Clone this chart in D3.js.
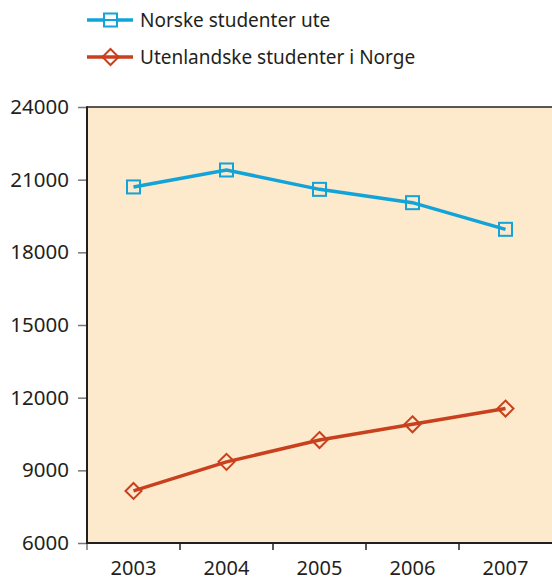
<!DOCTYPE html>
<html><head><meta charset="utf-8">
<script src="https://cdn.jsdelivr.net/npm/d3@7"></script>
<style>body{margin:0;background:#fff}svg{display:block}text{font-family:"Noto Sans",sans-serif;fill:#231f20}</style>
</head><body>
<svg id="c" width="552" height="582"></svg>
<script>
const years = ["2003","2004","2005","2006","2007"];
const norske = [20700, 21400, 20600, 20050, 18950];
const utenlandske = [8150, 9350, 10250, 10900, 11550];
const yTicks = [6000, 9000, 12000, 15000, 18000, 21000, 24000];
const seriesNames = ["Norske studenter ute", "Utenlandske studenter i Norge"];
const colors = ["#12a3d8", "#c8401d"];

const svg = d3.select("#c");
const L = 87, R = 552, T = 107, B = 543;
const x = d3.scaleBand().domain(years).range([L, R]);
const y = d3.scaleLinear().domain([6000, 24000]).range([B, T]);

svg.append("rect").attr("x", L).attr("y", T).attr("width", 552 - L).attr("height", B - T).attr("fill", "#fde9cb");
svg.append("line").attr("x1", L).attr("x2", 552).attr("y1", T).attr("y2", T).attr("stroke", "#231f20").attr("stroke-width", 1.5);

// y axis
const ya = svg.append("g").attr("transform", `translate(${L},0)`)
  .call(d3.axisLeft(y).tickValues(yTicks).tickSize(9).tickPadding(9).tickFormat(d3.format("d")));
ya.select(".domain").remove();
ya.selectAll(".tick line").attr("stroke", "#777").attr("stroke-width", 1.5);
ya.selectAll("text").style("font-size", "20.5px").attr("fill", "#231f20");
svg.append("line").attr("x1", L).attr("x2", L).attr("y1", T - 0.75).attr("y2", B + 1).attr("stroke", "#231f20").attr("stroke-width", 2);

// x axis
const xa = svg.append("g").attr("transform", `translate(0,${B})`);
const bounds = years.map(d => x(d));
xa.selectAll("line.t").data(bounds).join("line")
  .attr("x1", d => d).attr("x2", d => d).attr("y1", 0).attr("y2", 7)
  .attr("stroke", (d, i) => i === 0 ? "#777" : "#231f20").attr("stroke-width", 1.5);
xa.selectAll("text").data(years).join("text")
  .attr("x", d => x(d) + x.bandwidth() / 2).attr("y", 32)
  .attr("text-anchor", "middle").style("font-size", "20px").text(d => d);
svg.append("line").attr("x1", L - 1).attr("x2", 552).attr("y1", B).attr("y2", B).attr("stroke", "#231f20").attr("stroke-width", 2);

const cx = d => x(d) + x.bandwidth() / 2;
const line = d3.line().x((d, i) => cx(years[i])).y(d => y(d));

// Norske
svg.append("path").datum(norske).attr("d", line).attr("fill", "none").attr("stroke", colors[0]).attr("stroke-width", 3.5);
svg.selectAll("rect.sq").data(norske).join("rect").attr("class", "sq")
  .attr("x", (d, i) => cx(years[i]) - 6.5).attr("y", d => y(d) - 6.5)
  .attr("width", 13).attr("height", 13).attr("fill", "none").attr("stroke", colors[0]).attr("stroke-width", 2);

// Utenlandske
svg.append("path").datum(utenlandske).attr("d", line).attr("fill", "none").attr("stroke", colors[1]).attr("stroke-width", 3.5);
const dia = (cxv, cyv, r) => `M${cxv},${cyv - r}L${cxv + r},${cyv}L${cxv},${cyv + r}L${cxv - r},${cyv}Z`;
svg.selectAll("path.dm").data(utenlandske).join("path").attr("class", "dm")
  .attr("d", (d, i) => dia(cx(years[i]), y(d), 8))
  .attr("fill", "none").attr("stroke", colors[1]).attr("stroke-width", 2);

// legend
const leg = svg.append("g");
const ly = [20, 57];
seriesNames.forEach((n, i) => {
  leg.append("line").attr("x1", 87).attr("x2", 133).attr("y1", ly[i]).attr("y2", ly[i]).attr("stroke", colors[i]).attr("stroke-width", 3.5);
  if (i === 0) {
    leg.append("rect").attr("x", 104).attr("y", ly[i] - 6.5).attr("width", 13).attr("height", 13).attr("fill", "#fff").attr("stroke", colors[i]).attr("stroke-width", 2);
    leg.append("line").attr("x1", 104).attr("x2", 117).attr("y1", ly[i]).attr("y2", ly[i]).attr("stroke", colors[i]).attr("stroke-width", 2);
  } else {
    leg.append("path").attr("d", dia(110.5, ly[i], 8)).attr("fill", "#fff").attr("stroke", colors[i]).attr("stroke-width", 2);
    leg.append("line").attr("x1", 102.5).attr("x2", 118.5).attr("y1", ly[i]).attr("y2", ly[i]).attr("stroke", colors[i]).attr("stroke-width", 3.5);
  }
  leg.append("text").attr("x", 140).attr("y", ly[i] + 7).style("font-size", "19px").text(n);
});
</script>
</body></html>
